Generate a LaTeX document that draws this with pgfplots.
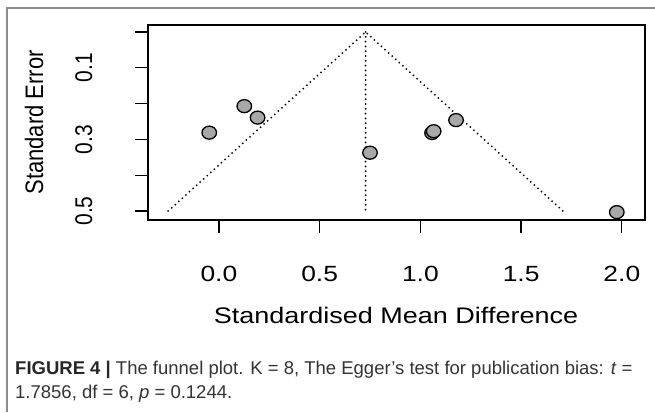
\documentclass[border=0pt]{standalone}
\usepackage{pgfplots}
\pgfplotsset{compat=1.18}
\usepackage{fontspec}
\setmainfont{Liberation Sans}
\newfontfamily\axfont[FakeStretch=1.2]{Liberation Sans}
\newfontfamily\rotfont{Liberation Sans}
\newfontfamily\capfont{Liberation Sans}
\definecolor{ptfill}{HTML}{A8A8A8}
\definecolor{framegray}{HTML}{8C8C8C}
\definecolor{captext}{HTML}{333333}
\newcommand{\ry}[1]{\scalebox{1}[1.15]{#1}}
\begin{document}
\begin{tikzpicture}[x=1pt,y=1pt]
\useasboundingbox (0,0) rectangle (655,-412);
\draw[framegray,line width=2.2pt] (7,-412) -- (7,-8) -- (655,-8);
\begin{axis}[
  at={(148pt,-220pt)}, anchor=south west,
  scale only axis, width=497pt, height=195pt,
  xmin=-0.352, xmax=2.115,
  ymin=-0.0196, ymax=0.525, y dir=reverse,
  axis line style={line width=1.3pt},
  tick style={line width=1.3pt, black},
  tick align=outside,
  major tick length=13pt,
  xtick={0,0.5,1,1.5,2},
  xticklabels={0.0,0.5,1.0,1.5,2.0},
  ytick={0,0.1,0.2,0.3,0.4,0.5},
  yticklabels={,\ry{0.1},,\ry{0.3},,\ry{0.5}},
  xtick pos=bottom, ytick pos=left,
  xticklabel style={font=\axfont\fontsize{22}{26}\selectfont, anchor=base, inner sep=0pt, yshift=-48pt},
  yticklabel style={font=\rotfont\fontsize{21}{26}\selectfont, xshift=-43pt, rotate=90, anchor=base, inner sep=0pt},
  xticklabel shift=0pt, yticklabel shift=0pt,
  clip=false,
]
\addplot[black, line width=2pt, line cap=round, dash pattern=on 0pt off 4.8pt] coordinates {(-0.252,0.5) (0.728,0) (1.708,0.5)};
\addplot[black, line width=2pt, line cap=round, dash pattern=on 0pt off 4.8pt] coordinates {(0.728,0) (0.728,0.5)};
\addplot[only marks, mark=*, mark size=6.5pt, mark options={fill=ptfill, draw=black, line width=1.3pt, xscale=1.12}]
 coordinates {
 (-0.048,0.281)
 (0.126,0.207)
 (0.192,0.239)
 (0.750,0.337)
 (1.058,0.282)
 (1.066,0.277)
 (1.177,0.246)
 (1.975,0.503)
 };
\end{axis}
\node[anchor=base, inner sep=0pt] at (396,-323) {\axfont\fontsize{22.5}{26}\selectfont Standardised Mean Difference};
\node[anchor=base, rotate=90, inner sep=0pt] at (43,-122.5) {\ry{\rotfont\fontsize{22}{26}\selectfont Standard Error}};
\node[anchor=base west, inner sep=0pt, text=captext] at (15,-374) {\capfont\fontsize{18.5}{22}\selectfont \textbf{\color{black!85}FIGURE 4 |} The funnel plot. K = 8, The Egger’s test for publication bias: \textit{t} =};
\node[anchor=base west, inner sep=0pt, text=captext] at (15,-398) {\capfont\fontsize{18.5}{22}\selectfont 1.7856, df = 6, \textit{p} = 0.1244.};
\end{tikzpicture}
\end{document}
